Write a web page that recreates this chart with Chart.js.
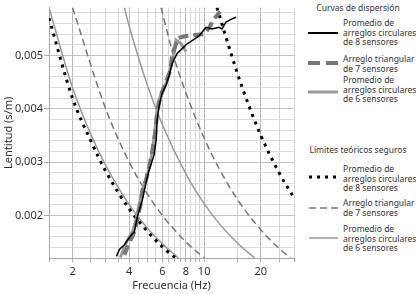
<!DOCTYPE html>
<html lang="es">
<head>
<meta charset="UTF-8">
<title>Curvas de dispersión</title>
<script src="https://cdn.jsdelivr.net/npm/chart.js"></script>
<style>
  * { box-sizing: border-box; margin: 0; padding: 0; }
  body { background: #fff; width: 416px; height: 294px; overflow: hidden; font-family: 'Noto Sans', sans-serif; color: #333; }
  #wrap { position: relative; width: 416px; height: 294px; }
  #chart { position: absolute; left: 0; top: 0; }
  .lg-title { position: absolute; left: 300px; width: 116px; text-align: center; font-size: 8.5px; line-height: 10px; white-space: nowrap; }
  .lg-text { position: absolute; left: 343px; font-size: 8.5px; line-height: 9.6px; white-space: nowrap; }
  .lg-sample { position: absolute; left: 306px; }
</style>
</head>
<body>
<div id="wrap">
  <canvas id="chart" width="300" height="294"></canvas>

  <div class="lg-title" style="top:3px">Curvas de dispersión</div>
  <svg class="lg-sample" style="top:28px" width="34" height="10"><line x1="2" y1="5" x2="32" y2="5" stroke="#000" stroke-width="2"/></svg>
  <div class="lg-text" style="top:18px">Promedio de<br>arreglos circulares<br>de 8 sensores</div>
  <svg class="lg-sample" style="top:58px" width="34" height="10"><line x1="2" y1="5" x2="32" y2="5" stroke="#777" stroke-width="4" stroke-dasharray="12 6"/></svg>
  <div class="lg-text" style="top:54px">Arreglo triangular<br>de 7 sensores</div>
  <svg class="lg-sample" style="top:87px" width="34" height="10"><line x1="2" y1="5" x2="32" y2="5" stroke="#999" stroke-width="3"/></svg>
  <div class="lg-text" style="top:75px">Promedio de<br>arreglos circulares<br>de 6 sensores</div>

  <div class="lg-title" style="top:145px">Límites teóricos seguros</div>
  <svg class="lg-sample" style="top:172px" width="34" height="10"><line x1="3" y1="5" x2="32" y2="5" stroke="#000" stroke-width="3" stroke-dasharray="3 5"/></svg>
  <div class="lg-text" style="top:164px">Promedio de<br>arreglos circulares<br>de 8 sensores</div>
  <svg class="lg-sample" style="top:203px" width="34" height="10"><line x1="3" y1="5" x2="32" y2="5" stroke="#777" stroke-width="1.5" stroke-dasharray="7 4"/></svg>
  <div class="lg-text" style="top:198px">Arreglo triangular<br>de 7 sensores</div>
  <svg class="lg-sample" style="top:233px" width="34" height="10"><line x1="3" y1="5" x2="32" y2="5" stroke="#999" stroke-width="1.5"/></svg>
  <div class="lg-text" style="top:224px">Promedio de<br>arreglos circulares<br>de 6 sensores</div>
</div>

<script>
// ejes
const xGrid = [1.5, 2, 2.5, 3, 3.5, 4, 4.5, 5, 5.5, 6, 6.5, 7, 7.5, 8, 8.5, 9, 9.5, 10, 15, 20, 25, 30];
const xTickValues = [2, 4, 6, 8, 10, 20];
const xTickText = ['2', '4', '6', '8', '10', '20'];
const yGrid = [0.0012, 0.0014, 0.0016, 0.0018, 0.002, 0.0022, 0.0024, 0.0026, 0.0028, 0.003, 0.0032, 0.0034,
               0.0036, 0.0038, 0.004, 0.0042, 0.0044, 0.0046, 0.0048, 0.005, 0.0052, 0.0054, 0.0056, 0.0058];
const yTickValues = [0.002, 0.003, 0.004, 0.005];
const yTickText = ['0.002', '0,003', '0,004', '0,005'];

// curvas de dispersion
const disp8F = [3.42, 3.55, 3.77, 4.10, 4.26, 4.41, 4.52, 4.69, 4.81, 4.93, 5.08, 5.43, 5.57, 5.63, 5.77, 5.99,
                6.29, 6.52, 6.76, 7.19, 7.64, 8.12, 8.63, 9.40, 10.23, 11.0, 11.99, 12.44, 13.06, 13.88, 14.75];
const disp8S = [0.00123, 0.00136, 0.00145, 0.00163, 0.00169, 0.00196, 0.00209, 0.00228, 0.00246, 0.00264, 0.00283,
                0.00314, 0.00344, 0.0038, 0.00406, 0.0043, 0.00445, 0.00463, 0.00485, 0.00504, 0.00513, 0.00522,
                0.00528, 0.00537, 0.00553, 0.0055, 0.00553, 0.0055, 0.00563, 0.00568, 0.00572];
const disp7F = [3.77, 4.00, 4.26, 4.41, 4.58, 4.69, 4.93, 5.11, 5.30, 5.50, 5.63, 5.84, 6.21, 6.60, 6.76, 7.02,
                7.28, 8.12, 9.17, 9.99, 10.62, 11.28, 12.14];
const disp7S = [0.00126, 0.00148, 0.00169, 0.00191, 0.00218, 0.00246, 0.00268, 0.00292, 0.0032, 0.00356, 0.00393,
                0.00421, 0.00448, 0.00471, 0.005, 0.00518, 0.00533, 0.00537, 0.00539, 0.0054, 0.00552, 0.00568, 0.00583];
const disp6F = [3.59, 3.72, 3.91, 4.16, 4.31, 4.47, 4.64, 4.81, 5.05, 5.24, 5.43, 5.57, 5.70, 5.99, 6.36, 6.68,
                6.93, 7.10, 7.55, 8.02];
const disp6S = [0.00121, 0.00136, 0.00154, 0.00169, 0.00187, 0.00213, 0.00237, 0.00259, 0.00283, 0.0031, 0.00347,
                0.00384, 0.00412, 0.00434, 0.00452, 0.00482, 0.00504, 0.00529, 0.00522, 0.00507];

// limites teoricos
const lim8aF = [1.5, 2, 2.5, 3, 4, 5, 6, 7];
const lim8aS = [0.0057, 0.0042, 0.0034, 0.00283, 0.00212, 0.0017, 0.00141, 0.00121];
const lim8bF = [11.7, 14, 16, 20, 25, 30];
const lim8bS = [0.0059, 0.005, 0.00438, 0.0035, 0.0028, 0.00233];
const lim7aF = [2, 3, 4, 5, 6, 8, 10];
const lim7aS = [0.0059, 0.004, 0.003, 0.0024, 0.002, 0.0015, 0.0012];
const lim7bF = [5.9, 7, 8, 10, 12, 15, 20, 25, 28.7];
const lim7bS = [0.0059, 0.0049, 0.0043, 0.00345, 0.00288, 0.0023, 0.00173, 0.00138, 0.0012];
const lim6aF = [1.5, 2, 2.5, 3, 4, 5, 6, 7.3];
const lim6aS = [0.0059, 0.0044, 0.00352, 0.00294, 0.0022, 0.00176, 0.00147, 0.0012];
const lim6bF = [3.77, 4, 5, 6, 8, 10, 12, 15, 18.5];
const lim6bS = [0.0059, 0.00555, 0.00444, 0.0037, 0.00278, 0.00222, 0.00185, 0.00148, 0.0012];

const pts = (fs, ss) => fs.map((f, i) => ({ x: f, y: ss[i] }));
const near = (a, b) => Math.abs(a - b) < 1e-9;

function dispersion(data, color, width, dash, order) {
  return { data, borderColor: color, borderWidth: width, borderDash: dash, tension: 0,
           pointRadius: 0, fill: false, order };
}
function limit(data, color, width, dash, order) {
  return { data, borderColor: color, borderWidth: width, borderDash: dash, cubicInterpolationMode: 'monotone',
           pointRadius: 0, fill: false, order };
}

new Chart(document.getElementById('chart'), {
  type: 'line',
  data: {
    datasets: [
      dispersion(pts(disp8F, disp8S), '#000', 1.5, [], 0),
      dispersion(pts(disp7F, disp7S), '#777', 4, [10, 5], 1),
      dispersion(pts(disp6F, disp6S), '#9a9a9a', 3, [], 2),
      limit(pts(lim8aF, lim8aS), '#000', 3, [3, 5], 3),
      limit(pts(lim8bF, lim8bS), '#000', 3, [3, 5], 3),
      limit(pts(lim7aF, lim7aS), '#777', 1.5, [7, 4], 4),
      limit(pts(lim7bF, lim7bS), '#777', 1.5, [7, 4], 4),
      limit(pts(lim6aF, lim6aS), '#9a9a9a', 1.5, [], 5),
      limit(pts(lim6bF, lim6bS), '#9a9a9a', 1.5, [], 5)
    ]
  },
  options: {
    responsive: false,
    animation: false,
    layout: { padding: { top: 3, right: 6 } },
    plugins: { legend: { display: false }, tooltip: { enabled: false } },
    scales: {
      x: {
        type: 'logarithmic', min: 1.5, max: 30,
        afterBuildTicks: s => { s.ticks = xGrid.map(v => ({ value: v })); },
        afterFit: s => { s.height = 36; },
        grid: {
          color: c => xTickValues.includes(c.tick.value) ? '#b8b8b8' : '#d6d6d6',
          tickLength: 4, tickColor: '#aaa'
        },
        border: { color: '#aaa' },
        ticks: {
          autoSkip: false, maxRotation: 0, padding: 3, color: '#333',
          font: { family: 'Noto Sans', size: 11 },
          callback: v => { const i = xTickValues.indexOf(v); return i >= 0 ? xTickText[i] : ''; }
        },
        title: { display: true, text: 'Frecuencia (Hz)', color: '#333',
                 font: { family: 'Noto Sans', size: 11 }, padding: { top: 0, bottom: 2 } }
      },
      y: {
        min: 0.0012, max: 0.0059,
        afterBuildTicks: s => { s.ticks = yGrid.map(v => ({ value: v })); },
        afterFit: s => { s.width = 49; },
        grid: {
          color: c => yTickValues.some(t => near(t, c.tick.value)) ? '#c4c4c4' : '#dcdcdc',
          tickLength: 5,
          tickColor: c => yTickValues.some(t => near(t, c.tick.value)) ? '#aaa' : 'rgba(0,0,0,0)'
        },
        border: { color: '#aaa' },
        ticks: {
          autoSkip: false, padding: 1, color: '#333',
          font: { family: 'Noto Sans', size: 11 },
          callback: v => { const i = yTickValues.findIndex(t => near(t, v)); return i >= 0 ? yTickText[i] : ''; }
        },
        title: { display: true, text: 'Lentitud (s/m)', color: '#333',
                 font: { family: 'Noto Sans', size: 11 }, padding: { top: 2, bottom: 0 } }
      }
    }
  }
});
</script>
</body>
</html>
